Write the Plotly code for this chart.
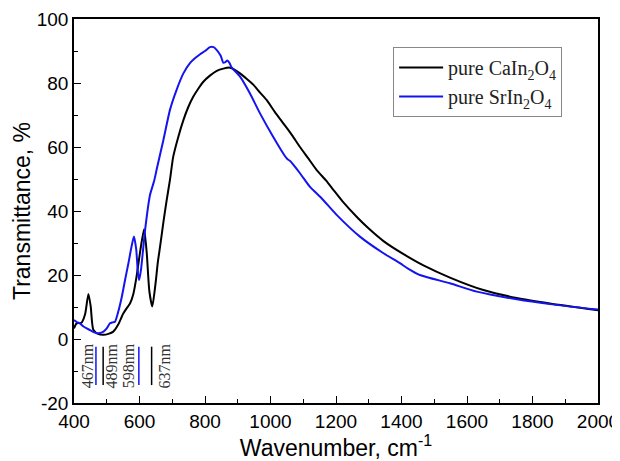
import plotly.graph_objects as go

# ---- data ----
ca_x = [400, 408, 423, 434, 444, 451, 459, 475, 490, 505, 520, 535, 550, 560, 571, 581, 591,
        603, 614, 622, 630, 639, 648, 656, 663, 673, 683, 693, 703, 718, 734, 749, 764, 780,
        795, 815, 836, 856, 876, 890, 907, 927, 948, 968, 988, 1013, 1039, 1065, 1090, 1115,
        1141, 1170, 1192, 1220, 1263, 1300, 1345, 1405, 1467, 1548, 1650, 1752, 1853, 2000]
ca_y = [3.3, 4.9, 5.1, 7.8, 14.1, 10.2, 2.9, 1.5, 1.3, 1.6, 2.3, 4.5, 7.9, 9.5, 11.1, 14.0, 19.5,
        28.0, 34.3, 27.0, 15.0, 10.2, 16.5, 24.0, 29.0, 36.5, 43.4, 49.7, 57.0, 63.0, 68.4, 72.5,
        75.7, 78.3, 80.4, 82.3, 83.8, 84.5, 84.8, 84.2, 83.0, 81.3, 79.4, 77.0, 74.7, 71.0, 67.4,
        63.8, 60.0, 56.5, 52.8, 49.5, 46.6, 43.0, 38.2, 34.5, 30.6, 26.6, 23.0, 19.2, 15.3, 12.8,
        11.1, 9.0]

sr_x = [400, 410, 418, 428, 439, 452, 469, 480, 490, 500, 510, 518, 525, 535, 546, 556, 566,
        575, 583, 590, 595, 599, 605, 611, 617, 625, 632, 645, 652, 673, 693, 713, 734, 754,
        770, 785, 800, 815, 826, 836, 848, 856, 862, 868, 875, 881, 907, 937, 968, 1008, 1044,
        1052, 1060, 1090, 1120, 1156, 1202, 1273, 1345, 1395, 1420, 1456, 1548, 1630, 1752,
        1853, 2000]
sr_y = [5.9, 5.2, 4.9, 4.0, 3.3, 2.6, 1.8, 1.9, 2.3, 3.3, 4.9, 5.2, 5.4, 8.5, 13.2, 18.5, 23.6,
        28.5, 32.0, 28.0, 21.0, 18.4, 22.0, 28.0, 34.0, 40.5, 45.0, 49.5, 52.8, 62.2, 71.6, 77.8,
        83.0, 86.2, 87.8, 89.0, 90.0, 91.2, 91.2, 90.3, 88.5, 86.3, 86.5, 87.0, 86.2, 84.9, 82.0,
        76.8, 70.5, 63.2, 57.2, 56.2, 55.6, 51.8, 47.6, 44.0, 38.8, 32.0, 26.8, 23.7, 22.0, 20.0,
        17.4, 14.8, 12.4, 10.9, 9.2]

band_pos = [467, 489, 598, 637]
band_labels = ["467nm", "489nm", "598nm", "637nm"]
band_series = ["sr", "ca", "sr", "ca"]

x_ticks = [400, 600, 800, 1000, 1200, 1400, 1600, 1800, 2000]
y_ticks = [-20, 0, 20, 40, 60, 80, 100]

BLACK = "#000000"
BLUE = "#1414f0"
colors = {"ca": BLACK, "sr": BLUE}

fig = go.Figure()
fig.add_trace(go.Scatter(x=ca_x, y=ca_y, mode="lines", name="pure CaIn<sub>2</sub>O<sub>4</sub>",
                         line=dict(color=BLACK, width=2, shape="spline", smoothing=0.6)))
fig.add_trace(go.Scatter(x=sr_x, y=sr_y, mode="lines", name="pure SrIn<sub>2</sub>O<sub>4</sub>",
                         line=dict(color=BLUE, width=2, shape="spline", smoothing=0.6)))

# band marker lines and rotated labels
label_shift = [-8.5, 8.5, -9.5, 13]
for pos, lab, ser, sh in zip(band_pos, band_labels, band_series, label_shift):
    fig.add_shape(type="line", xref="x", yref="y", x0=pos, x1=pos, y0=-2.4, y1=-14.4,
                  line=dict(color=colors[ser], width=1.5))
    fig.add_annotation(x=pos, y=-8.4, xref="x", yref="y", text=lab, showarrow=False,
                       textangle=-90, xshift=sh, xanchor="center", yanchor="middle",
                       font=dict(family="Liberation Serif", size=16, color="#333333"))

axis_common = dict(showline=True, linecolor="black", linewidth=1.5, mirror=True,
                   showgrid=False, zeroline=False, ticks="inside", ticklen=7, tickwidth=1.3,
                   tickcolor="black", automargin=False,
                   tickfont=dict(family="Liberation Sans", size=19, color="black"))

fig.update_xaxes(range=[400, 2000], tickvals=x_ticks, ticktext=[str(v) for v in x_ticks],
                 minor=dict(ticks="inside", ticklen=4, dtick=100, tickcolor="black", tickwidth=1.3),
                 title=dict(text="Wavenumber, cm<sup>-1</sup>", standoff=2,
                            font=dict(family="Liberation Sans", size=23, color="black")),
                 **axis_common)
fig.update_yaxes(range=[-20, 100], tickvals=y_ticks, ticktext=[str(v) for v in y_ticks],
                 minor=dict(ticks="inside", ticklen=4, dtick=10, tickcolor="black", tickwidth=1.3),
                 title=dict(text="Transmittance, %", standoff=0,
                            font=dict(family="Liberation Sans", size=23, color="black")),
                 **axis_common)

# the page body adds an 8px offset, so the figure is sized to fit the 620x461 window
fig.update_layout(
    width=612, height=453,
    margin=dict(l=66, r=22, t=11, b=58),
    paper_bgcolor="white", plot_bgcolor="white",
    showlegend=True,
    legend=dict(x=0.609, y=0.927, xanchor="left", yanchor="top",
                bordercolor="#888888", borderwidth=1, bgcolor="white",
                font=dict(family="Liberation Serif", size=20, color="#222222"),
                itemwidth=44, tracegroupgap=0),
)

fig.write_html("out.html")
